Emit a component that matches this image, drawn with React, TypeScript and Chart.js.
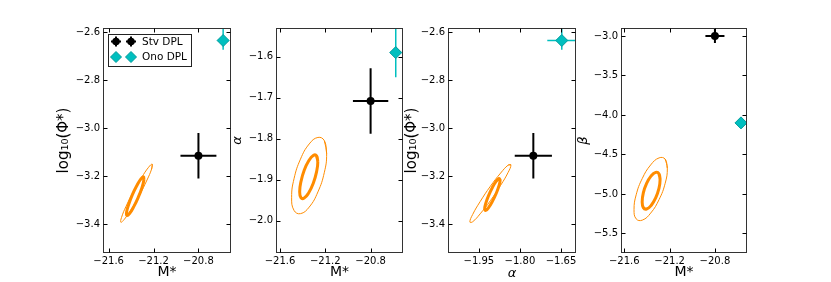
import React, { useEffect, useRef } from 'react';
import { Chart, registerables } from 'chart.js';

Chart.register(...registerables);

// ---------------- values ----------------
type Pair = [number, number];

// tick values
const mStarTicks = [-21.6, -21.2, -20.8];
const logPhiTicks = [-3.4, -3.2, -3.0, -2.8, -2.6];
const alphaTicksY = [-2.0, -1.9, -1.8, -1.7, -1.6];
const alphaTicksX = [-1.95, -1.8, -1.65];
const betaTicks = [-5.5, -5.0, -4.5, -4.0, -3.5, -3.0];

// Stv DPL, one entry per panel
const stvX = [-20.8, -20.8, -1.751, -20.8];
const stvY = [-3.115, -1.708, -3.115, -3.0];
const stvXErr = [0.16, 0.156, 0.068, 0.084];
const stvYErr = [0.095, 0.08, 0.095, 0.088];

// Ono DPL, one entry per panel
const onoX = [-20.58, -20.578, -1.647, -20.57];
const onoY = [-2.635, -1.59, -2.635, -4.1];
const onoXErr = [0.05, 0.05, 0.053, 0.05];
const onoYErrLo = [0.039, 0.06, 0.039, 0.04];
const onoYErrHi = [0.06, 0.07, 0.06, 0.04];

// confidence contours (outer thin, inner thick)
const p1Outer: Pair[] = [[-21.212, -3.150], [-21.217, -3.170], [-21.258, -3.216], [-21.324, -3.278], [-21.397, -3.337], [-21.459, -3.379], [-21.491, -3.392], [-21.485, -3.372], [-21.444, -3.325], [-21.379, -3.264], [-21.305, -3.205], [-21.244, -3.163]];
const p1Inner: Pair[] = [[-21.289, -3.203], [-21.286, -3.216], [-21.303, -3.248], [-21.337, -3.289], [-21.377, -3.328], [-21.414, -3.356], [-21.436, -3.364], [-21.440, -3.350], [-21.422, -3.319], [-21.389, -3.278], [-21.348, -3.239], [-21.312, -3.211]];
const p2Outer: Pair[] = [[-21.188, -1.837], [-21.208, -1.805], [-21.265, -1.797], [-21.342, -1.813], [-21.419, -1.850], [-21.476, -1.898], [-21.497, -1.943], [-21.476, -1.975], [-21.419, -1.983], [-21.342, -1.967], [-21.265, -1.930], [-21.208, -1.882]];
const p2Inner: Pair[] = [[-21.266, -1.857], [-21.277, -1.842], [-21.306, -1.841], [-21.346, -1.854], [-21.386, -1.877], [-21.415, -1.905], [-21.426, -1.929], [-21.415, -1.944], [-21.386, -1.945], [-21.346, -1.932], [-21.306, -1.909], [-21.277, -1.881]];
const p3Outer: Pair[] = [[-1.833, -3.153], [-1.843, -3.154], [-1.8705, -3.187], [-1.908, -3.242], [-1.9455, -3.306], [-1.973, -3.360], [-1.983, -3.391], [-1.973, -3.390], [-1.9455, -3.357], [-1.908, -3.302], [-1.8705, -3.238], [-1.843, -3.184]];
const p3Inner: Pair[] = [[-1.8724, -3.216], [-1.8762, -3.2095], [-1.8865, -3.2208], [-1.9006, -3.2469], [-1.9147, -3.2808], [-1.925, -3.3134], [-1.9288, -3.336], [-1.925, -3.3425], [-1.9147, -3.3312], [-1.9006, -3.3051], [-1.8865, -3.2712], [-1.8762, -3.2386]];
const p4Outer: Pair[] = [[-21.220, -4.676], [-21.239, -4.559], [-21.293, -4.543], [-21.367, -4.632], [-21.441, -4.803], [-21.495, -5.010], [-21.514, -5.198], [-21.495, -5.315], [-21.441, -5.331], [-21.367, -5.242], [-21.293, -5.071], [-21.239, -4.864]];
const p4Inner: Pair[] = [[-21.284, -4.818], [-21.294, -4.743], [-21.323, -4.726], [-21.363, -4.771], [-21.403, -4.866], [-21.432, -4.986], [-21.442, -5.098], [-21.432, -5.173], [-21.403, -5.190], [-21.363, -5.145], [-21.323, -5.050], [-21.294, -4.930]];

const legendLabels = ['Stv DPL', 'Ono DPL'];

// ---------------- styling / layout ----------------
const FONT = "'DejaVu Sans', sans-serif";
const ORANGE = '#ff8c00';
const CYAN = '#00bfbf';
const CYAN_EDGE = '#009c9c';
const FRAME = '#333333';
const H = 282;
const AXIS_BAND = 70;
const RIGHT_PAD = 10;

Chart.defaults.font.family = FONT;

interface PanelSpec {
  idx: number;
  plotLeft: number;
  plotW: number;
  yTitleX: number;
  xRange: [number, number];
  yRange: [number, number];
  xTicks: number[];
  yTicks: number[];
  xDec: number;
  yDec: number;
  xTitle: string;
  yTitle: string;
  xItalic: boolean;
  yItalic: boolean;
  xTitleSize: number;
  yTitleSize: number;
  xTitleCenterY: number;
  outer: Pair[];
  inner: Pair[];
  legend: boolean;
}

const panels: PanelSpec[] = [
  {
    idx: 0, plotLeft: 103, plotW: 128, yTitleX: 64,
    xRange: [-21.65, -20.51], yRange: [-3.52, -2.583],
    xTicks: mStarTicks, yTicks: logPhiTicks, xDec: 1, yDec: 1,
    xTitle: 'M*', yTitle: 'log₁₀(Φ*)', xItalic: false, yItalic: false,
    xTitleSize: 14, yTitleSize: 15, xTitleCenterY: 272,
    outer: p1Outer, inner: p1Inner, legend: true,
  },
  {
    idx: 1, plotLeft: 276, plotW: 127, yTitleX: 238,
    xRange: [-21.635, -20.514], yRange: [-2.079, -1.53],
    xTicks: mStarTicks, yTicks: alphaTicksY, xDec: 1, yDec: 1,
    xTitle: 'M*', yTitle: 'α', xItalic: false, yItalic: true,
    xTitleSize: 14, yTitleSize: 13, xTitleCenterY: 272,
    outer: p2Outer, inner: p2Inner, legend: false,
  },
  {
    idx: 2, plotLeft: 448, plotW: 128, yTitleX: 412.5,
    xRange: [-2.063, -1.595], yRange: [-3.52, -2.583],
    xTicks: alphaTicksX, yTicks: logPhiTicks, xDec: 2, yDec: 1,
    xTitle: 'α', yTitle: 'log₁₀(Φ*)', xItalic: true, yItalic: false,
    xTitleSize: 13, yTitleSize: 15, xTitleCenterY: 274,
    outer: p3Outer, inner: p3Inner, legend: false,
  },
  {
    idx: 3, plotLeft: 621, plotW: 126, yTitleX: 584,
    xRange: [-21.629, -20.517], yRange: [-5.747, -2.899],
    xTicks: mStarTicks, yTicks: betaTicks, xDec: 1, yDec: 1,
    xTitle: 'M*', yTitle: 'β', xItalic: false, yItalic: true,
    xTitleSize: 14, yTitleSize: 13, xTitleCenterY: 272,
    outer: p4Outer, inner: p4Inner, legend: false,
  },
];

function fmt(v: number, d: number): string {
  return v.toFixed(d).replace('-', '\u2212');
}

function closed(pts: Pair[]) {
  const all = pts.concat([pts[0], pts[1]]);
  return all.map(([x, y]) => ({ x, y }));
}

function drawDiamond(ctx: CanvasRenderingContext2D, x: number, y: number, r: number) {
  ctx.beginPath();
  ctx.moveTo(x - r, y);
  ctx.lineTo(x, y - r);
  ctx.lineTo(x + r, y);
  ctx.lineTo(x, y + r);
  ctx.closePath();
  ctx.fillStyle = CYAN;
  ctx.fill();
  ctx.strokeStyle = CYAN_EDGE;
  ctx.lineWidth = 1;
  ctx.stroke();
}

function makePlugin(p: PanelSpec) {
  const i = p.idx;
  return {
    id: 'decor' + i,
    beforeDatasetsDraw(chart: any) {
      const { ctx, chartArea: a, scales } = chart;
      const xs = scales.x;
      const ys = scales.y;
      ctx.save();
      ctx.beginPath();
      ctx.rect(a.left, a.top, a.right - a.left, a.bottom - a.top);
      ctx.clip();
      const bars = [
        { x: stvX[i], y: stvY[i], xl: stvXErr[i], xh: stvXErr[i], yl: stvYErr[i], yh: stvYErr[i], color: '#000', w: 2 },
        { x: onoX[i], y: onoY[i], xl: onoXErr[i], xh: onoXErr[i], yl: onoYErrLo[i], yh: onoYErrHi[i], color: CYAN, w: 1.5 },
      ];
      for (const b of bars) {
        const px = xs.getPixelForValue(b.x);
        const py = ys.getPixelForValue(b.y);
        ctx.strokeStyle = b.color;
        ctx.lineWidth = b.w;
        ctx.beginPath();
        ctx.moveTo(xs.getPixelForValue(b.x - b.xl), py);
        ctx.lineTo(xs.getPixelForValue(b.x + b.xh), py);
        ctx.moveTo(px, ys.getPixelForValue(b.y - b.yl));
        ctx.lineTo(px, ys.getPixelForValue(b.y + b.yh));
        ctx.stroke();
      }
      ctx.restore();
    },
    afterDraw(chart: any) {
      const { ctx, chartArea: a, scales } = chart;
      const xs = scales.x;
      const ys = scales.y;
      const L = Math.round(a.left) + 0.5;
      const R = Math.round(a.right) - 0.5;
      const T = Math.round(a.top) + 0.5;
      const B = Math.round(a.bottom) - 0.5;
      ctx.save();
      ctx.strokeStyle = FRAME;
      ctx.lineWidth = 1;
      ctx.strokeRect(L, T, R - L, B - T);
      const tl = 4;
      ctx.strokeStyle = '#000';
      ctx.beginPath();
      for (const v of p.xTicks) {
        const x = Math.round(xs.getPixelForValue(v)) + 0.5;
        ctx.moveTo(x, B); ctx.lineTo(x, B - tl);
        ctx.moveTo(x, T); ctx.lineTo(x, T + tl);
      }
      for (const v of p.yTicks) {
        const y = Math.round(ys.getPixelForValue(v)) + 0.5;
        ctx.moveTo(L, y); ctx.lineTo(L + tl, y);
        ctx.moveTo(R, y); ctx.lineTo(R - tl, y);
      }
      ctx.stroke();

      if (p.legend) {
        const bx = Math.round(a.left) + 5.5;
        const by = Math.round(a.top) + 6.5;
        const bw = 83;
        const bh = 32;
        ctx.fillStyle = '#fff';
        ctx.fillRect(bx, by, bw, bh);
        ctx.strokeStyle = '#222';
        ctx.lineWidth = 1;
        ctx.strokeRect(bx, by, bw, bh);
        const rows = [by + 7, by + 22.5];
        const mx = [bx + 7.5, bx + 22.5];
        for (const x of mx) {
          const y = rows[0];
          ctx.strokeStyle = '#000';
          ctx.lineWidth = 2;
          ctx.beginPath();
          ctx.moveTo(x - 5, y); ctx.lineTo(x + 5, y);
          ctx.moveTo(x, y - 5); ctx.lineTo(x, y + 5);
          ctx.stroke();
          ctx.fillStyle = '#000';
          ctx.beginPath();
          ctx.arc(x, y, 3.8, 0, Math.PI * 2);
          ctx.fill();
        }
        for (const x of mx) {
          drawDiamond(ctx, x, rows[1], 5.5);
        }
        ctx.fillStyle = '#000';
        ctx.font = `10.5px ${FONT}`;
        ctx.textAlign = 'left';
        ctx.textBaseline = 'middle';
        ctx.fillText(legendLabels[0], bx + 33.5, rows[0] + 0.5);
        ctx.fillText(legendLabels[1], bx + 33.5, rows[1] + 0.5);
      }
      ctx.restore();
    },
  };
}

function buildConfig(p: PanelSpec): any {
  const i = p.idx;
  const yLine = p.yTitleSize * 1.2;
  const xLine = p.xTitleSize * 1.2;
  const canvasLeft = p.plotLeft - AXIS_BAND;
  const padLeft = p.yTitleX - yLine / 2 - canvasLeft;
  const yAxisW = AXIS_BAND - padLeft;
  const xAxisH = 29;
  const xTitlePadB = Math.max(0, H - p.xTitleCenterY - xLine / 2);
  return {
    type: 'scatter',
    data: {
      datasets: [
        { data: closed(p.outer), showLine: true, borderColor: ORANGE, borderWidth: 1, pointRadius: 0, tension: 0.45, clip: 0 },
        { data: closed(p.inner), showLine: true, borderColor: ORANGE, borderWidth: 3, pointRadius: 0, tension: 0.45, clip: 0 },
        { data: [{ x: stvX[i], y: stvY[i] }], pointStyle: 'circle', pointRadius: 4, backgroundColor: '#000', borderColor: '#000', borderWidth: 0, clip: 0 },
        { data: [{ x: onoX[i], y: onoY[i] }], pointStyle: 'rectRot', pointRadius: 6, backgroundColor: CYAN, borderColor: CYAN_EDGE, borderWidth: 1, clip: 0 },
      ],
    },
    options: {
      responsive: false,
      animation: false,
      events: [],
      layout: { padding: { left: padLeft, right: RIGHT_PAD, top: 28, bottom: 0 } },
      plugins: { legend: { display: false }, tooltip: { enabled: false } },
      scales: {
        x: {
          type: 'linear',
          min: p.xRange[0],
          max: p.xRange[1],
          afterBuildTicks: (ax: any) => { ax.ticks = p.xTicks.map((v) => ({ value: v })); },
          afterFit: (ax: any) => { ax.height = xAxisH; },
          grid: { display: false, drawTicks: false },
          border: { display: false },
          ticks: { padding: 2, color: '#000', font: { size: 10, family: FONT }, maxRotation: 0, autoSkip: false, callback: (v: number) => fmt(v, p.xDec) },
          title: {
            display: true, text: p.xTitle, color: '#000',
            font: { size: p.xTitleSize, family: FONT, style: p.xItalic ? 'italic' : 'normal' },
            padding: { top: 0, bottom: xTitlePadB },
          },
        },
        y: {
          type: 'linear',
          min: p.yRange[0],
          max: p.yRange[1],
          afterBuildTicks: (ax: any) => { ax.ticks = p.yTicks.map((v) => ({ value: v })); },
          afterFit: (ax: any) => { ax.width = yAxisW; },
          grid: { display: false, drawTicks: false },
          border: { display: false },
          ticks: { padding: 3, color: '#000', font: { size: 10, family: FONT }, autoSkip: false, callback: (v: number) => fmt(v, p.yDec) },
          title: {
            display: true, text: p.yTitle, color: '#000',
            font: { size: p.yTitleSize, family: FONT, style: p.yItalic ? 'italic' : 'normal' },
            padding: { top: 0, bottom: 0 },
          },
        },
      },
    },
    plugins: [makePlugin(p)],
  };
}

function Panel({ spec }: { spec: PanelSpec }) {
  const ref = useRef<HTMLCanvasElement>(null);
  const canvasLeft = spec.plotLeft - AXIS_BAND;
  const width = AXIS_BAND + spec.plotW + RIGHT_PAD;
  useEffect(() => {
    if (!ref.current) return;
    const chart = new Chart(ref.current, buildConfig(spec));
    return () => chart.destroy();
  }, [spec]);
  return (
    <canvas
      ref={ref}
      width={width}
      height={H}
      style={{ position: 'absolute', left: canvasLeft, top: 0, width, height: H }}
    />
  );
}

export default function App() {
  return (
    <div style={{ position: 'absolute', left: 0, top: 0, width: 831, height: H, background: '#fff', overflow: 'hidden' }}>
      {panels.map((p) => (
        <Panel key={p.idx} spec={p} />
      ))}
    </div>
  );
}
